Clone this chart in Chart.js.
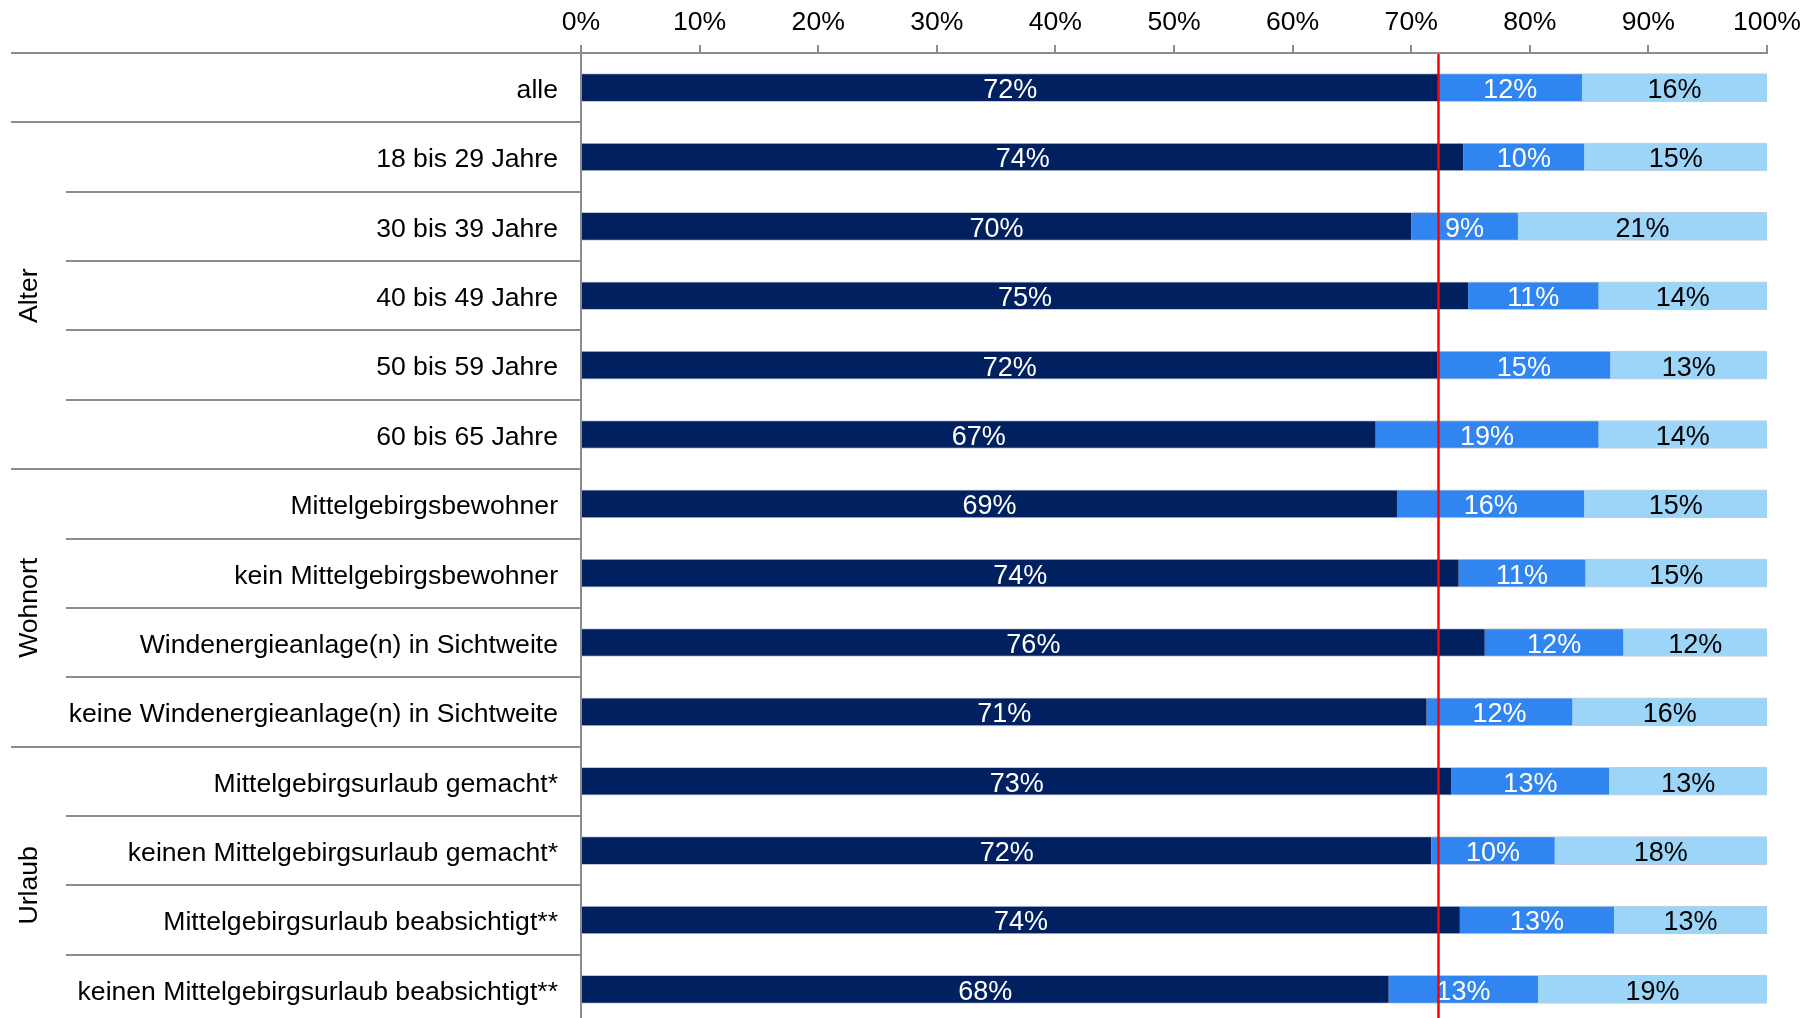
<!DOCTYPE html>
<html><head><meta charset="utf-8">
<script src="https://cdn.jsdelivr.net/npm/chart.js@4/dist/chart.umd.min.js"></script>
<style>
html,body{margin:0;padding:0;background:#fff;overflow:hidden;}
#wrap{width:1816px;height:1024px;position:relative;}
</style>
</head><body>
<div id="wrap"><canvas id="c" width="1816" height="1024"></canvas></div>
<script>
const categories = [
  'alle',
  '18 bis 29 Jahre','30 bis 39 Jahre','40 bis 49 Jahre','50 bis 59 Jahre','60 bis 65 Jahre',
  'Mittelgebirgsbewohner','kein Mittelgebirgsbewohner','Windenergieanlage(n) in Sichtweite','keine Windenergieanlage(n) in Sichtweite',
  'Mittelgebirgsurlaub gemacht*','keinen Mittelgebirgsurlaub gemacht*','Mittelgebirgsurlaub beabsichtigt**','keinen Mittelgebirgsurlaub beabsichtigt**'
];
const seriesNames = ['Anteil 1','Anteil 2','Anteil 3'];
const series1 = [72.3, 74.4, 70.0, 74.8, 72.2, 67.0, 68.8, 74.0, 76.2, 71.3, 73.4, 71.7, 74.1, 68.1];
const series2 = [12.1, 10.2,  9.0, 11.0, 14.6, 18.8, 15.8, 10.7, 11.7, 12.3, 13.3, 10.4, 13.0, 12.6];
const series3 = [15.6, 15.4, 21.0, 14.2, 13.2, 14.2, 15.4, 15.3, 12.1, 16.4, 13.3, 17.9, 12.9, 19.3];
const tickValues = [0,10,20,30,40,50,60,70,80,90,100];
const groupNames = ['Alter','Wohnort','Urlaub'];
const groupFirst = [1, 6, 10];
const groupLast  = [5, 9, 13];
const referenceValue = series1[0];

const FONT = "'Liberation Sans', Arial, sans-serif";
const colors = ['#002060', '#3185F1', '#9DD5F8'];
const labelColors = ['#ffffff', '#ffffff', '#000000'];
const lineGray = '#8C8C8C';
const TXT = 26.6;
const VAL = 27;

Chart.defaults.font.family = FONT;
Chart.defaults.font.size = TXT;
Chart.defaults.color = '#000';

const decorPlugin = {
  id: 'decor',
  beforeDatasetsDraw(chart) {
    const ctx = chart.ctx, ya = chart.scales.y, ca = chart.chartArea;
    ctx.save();
    ctx.strokeStyle = lineGray;
    ctx.lineWidth = 2;
    const n = categories.length;
    for (let i = 0; i < n; i++) {
      let yy;
      if (i === 0) yy = ca.top;
      else yy = (ya.getPixelForValue(i - 1) + ya.getPixelForValue(i)) / 2;
      const isLong = (i === 0 || groupFirst.includes(i));
      const x0 = isLong ? 11 : 66;
      ctx.beginPath();
      ctx.moveTo(x0, Math.round(yy));
      ctx.lineTo(ca.left, Math.round(yy));
      ctx.stroke();
    }
    ctx.fillStyle = '#000';
    ctx.font = TXT + 'px ' + FONT;
    ctx.textAlign = 'center';
    ctx.textBaseline = 'middle';
    groupNames.forEach((g, k) => {
      const cy = (ya.getPixelForValue(groupFirst[k]) + ya.getPixelForValue(groupLast[k])) / 2;
      ctx.save();
      ctx.translate(30, cy);
      ctx.rotate(-Math.PI / 2);
      ctx.fillText(g, 0, 0);
      ctx.restore();
    });
    ctx.restore();
  },
  afterDatasetsDraw(chart) {
    const ctx = chart.ctx, ca = chart.chartArea;
    ctx.save();
    ctx.font = VAL + 'px ' + FONT;
    ctx.textAlign = 'center';
    ctx.textBaseline = 'middle';
    chart.data.datasets.forEach((ds, di) => {
      const meta = chart.getDatasetMeta(di);
      meta.data.forEach((el, i) => {
        const v = ds.data[i];
        const cx = (el.x + el.base) / 2;
        ctx.fillStyle = labelColors[di];
        ctx.fillText(Math.round(v) + '%', cx, el.y + 3);
      });
    });
    const xr = chart.scales.x.getPixelForValue(referenceValue);
    ctx.strokeStyle = '#FF0000';
    ctx.lineWidth = 2.5;
    ctx.beginPath();
    ctx.moveTo(xr, ca.top + 1);
    ctx.lineTo(xr, chart.height);
    ctx.stroke();
    ctx.restore();
  }
};

new Chart(document.getElementById('c'), {
  type: 'bar',
  data: {
    labels: categories,
    datasets: [
      { label: seriesNames[0], data: series1, backgroundColor: colors[0] },
      { label: seriesNames[1], data: series2, backgroundColor: colors[1] },
      { label: seriesNames[2], data: series3, backgroundColor: colors[2] }
    ]
  },
  options: {
    indexAxis: 'y',
    responsive: false,
    animation: false,
    datasets: { bar: { barThickness: 28, borderWidth: { top: 1, bottom: 1, left: 0, right: 0 }, borderSkipped: false, borderColor: '#C3CCDC' } },
    layout: { padding: { left: 0, right: 49, top: 0, bottom: 0 } },
    plugins: { legend: { display: false }, tooltip: { enabled: false }, title: { display: false } },
    scales: {
      x: {
        position: 'top',
        stacked: true,
        min: 0, max: 100,
        afterBuildTicks(scale) { scale.ticks = tickValues.map(v => ({ value: v })); },
        afterFit(scale) { scale.height = 53; scale.paddingLeft = 0; scale.paddingRight = 0; },
        ticks: { callback: v => v + '%', padding: 6, font: { size: TXT }, color: '#000', maxRotation: 0, autoSkip: false },
        grid: { drawOnChartArea: false, drawTicks: true, tickLength: 8, color: lineGray, lineWidth: 2 },
        border: { display: true, color: lineGray, width: 2 }
      },
      y: {
        stacked: true,
        afterFit(scale) { scale.width = 581; scale.paddingTop = 0; scale.paddingBottom = 0; },
        ticks: { padding: 23, labelOffset: 3, font: { size: TXT }, color: '#000', autoSkip: false },
        grid: { drawOnChartArea: false, drawTicks: false, color: lineGray, lineWidth: 2 },
        border: { display: true, color: lineGray, width: 2 }
      }
    }
  },
  plugins: [decorPlugin]
});
</script>
</body></html>
